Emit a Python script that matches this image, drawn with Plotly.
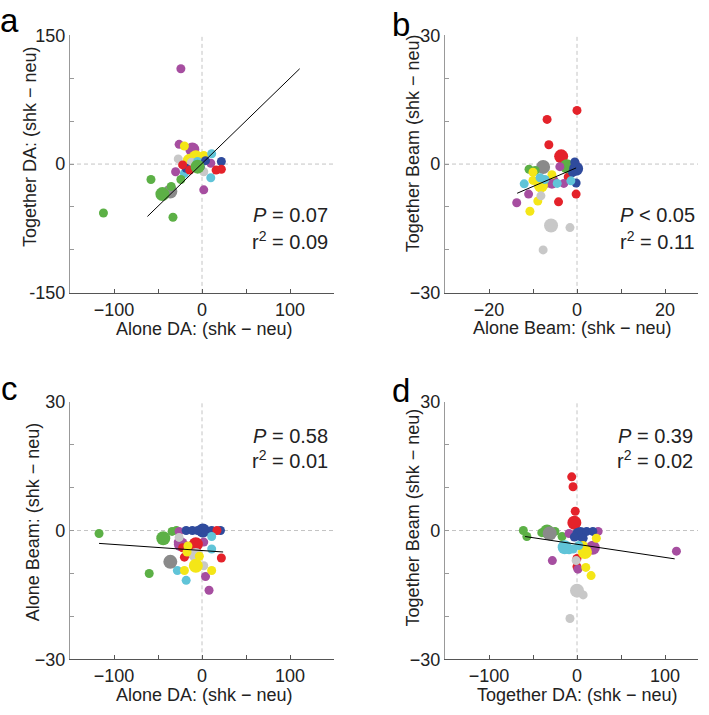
import plotly.graph_objects as go

# ---------------- data ----------------
# group codes: G green, P purple, Y yellow, L light gray, D dark gray, R red, B blue, C cyan
# big: 1 = large marker, 0 = small marker
a_x = [-24, -26, -11, -30, 10, 2, -20, -7, -14, 2, -3, -27, -7, 2, -12, -36, 11, 10, -20, -5, 22, 4, -2, -18, 22, 16, -22, -14, -24, -35, -45, -58, -33, -112, -5]
a_y = [111, 23, 17, -9, 1, -30, 21, 8, 4, 10, -4, 6, -1, -9, 2, -32, 12, -16, -11, 3, 3, 4, -3, -5, -6, -7, -1, -7, -18, -26, -35, -18, -62, -57, -3]
a_grp = ["P", "P", "P", "P", "P", "P", "Y", "Y", "Y", "Y", "Y", "L", "L", "L", "L", "D", "C", "C", "C", "C", "B", "B", "B", "B", "R", "R", "R", "R", "G", "G", "G", "G", "G", "G", "G"]
a_big = [0, 0, 1, 0, 0, 0, 0, 1, 1, 0, 0, 0, 1, 0, 0, 1, 0, 0, 0, 0, 0, 0, 0, 0, 0, 0, 0, 0, 0, 0, 1, 0, 0, 0, 1]

b_x = [0, -6.8, -6.4, -3.6, -0.2, -4.2, -2, -7.7, -10.9, -2.3, -9.5, -1, -3.9, -0.4, -5.7, -3, -11, -13.7, -7, -0.2, -0.2, -1, -0.5, -10, -10, -5.7, -8.2, -8.9, -10.7, -8.4, -7.3, -12, -4.5, -1.4, -8.2, -5.9, -1.6, -7.7]
b_y = [12.5, 10.4, 4.5, 1.8, -7, -8.8, -3, -0.7, -1.2, -0.5, -1.5, -0.3, -0.6, 0.2, -4.1, -4.5, -7, -9, -4.5, -1.1, -4.4, -2, 0.5, -1.9, -3.8, -2.5, -5, -8.6, -11, -3.2, -3.6, -4.6, -4.5, -3.9, -7.4, -14.3, -14.8, -20]
b_grp = ["R", "R", "R", "R", "R", "R", "R", "D", "G", "G", "G", "G", "P", "P", "P", "P", "P", "P", "P", "B", "B", "B", "B", "Y", "Y", "Y", "Y", "Y", "Y", "C", "C", "C", "C", "C", "L", "L", "L", "L"]
b_big = [0, 0, 0, 1, 0, 0, 0, 1, 0, 1, 0, 0, 0, 0, 1, 0, 0, 0, 0, 1, 0, 0, 0, 0, 0, 0, 1, 0, 0, 0, 0, 0, 0, 0, 0, 1, 0, 0]

c_x = [-117, -34, -44, -60, -29, -26, -27, -24, 2, -11, 4, 8, -18, -11, 1, 11, 21, -5, 17, -7, -22, -20, 22, 11, 11, -28, -18, -26, -7, 2, -36, -16, -17, -7, -20, 11, -3]
c_y = [-0.7, -0.2, -1.8, -10, 0, -0.2, -2.7, -3.2, -2.7, -5.5, -10.7, -13.9, 0, 0, 0, 0, 0, 0, 0, -3.2, -4, -6.2, -6.4, -1.4, -4.3, -9.3, -11.6, -1.6, -5.7, -8.2, -7.3, -3.6, -5, -8.2, -9.3, -9.3, -6]
c_grp = ["G", "G", "G", "G", "G", "P", "P", "P", "P", "P", "P", "P", "B", "B", "B", "B", "B", "B", "R", "R", "R", "R", "R", "C", "C", "C", "C", "L", "L", "L", "D", "Y", "Y", "Y", "Y", "Y", "Y"]
c_big = [0, 0, 1, 0, 0, 0, 0, 1, 0, 0, 0, 0, 0, 0, 1, 0, 0, 0, 0, 1, 0, 0, 0, 0, 0, 0, 0, 0, 1, 0, 1, 0, 0, 1, 0, 0, 0]

d_x = [-6, -4.5, -2, -3, 0, 0, -61, -57, -34, -25, -17, -40, -31, -9, 24, 18, 113, -28, 1, 0, 4, 11, 18, 7, -3, 22, 7, 9, 10, 16, -14, -4.5, -9, 2, -1, 0, 7, -8]
d_y = [12.5, 10.2, 4.5, 1.8, -6.5, -8.4, 0, -1.4, -0.2, -0.2, -1.4, -0.5, -0.7, -0.7, -0.2, -4, -4.8, -7, -9, -0.5, -0.8, -0.2, -0.2, -1.8, -1.5, -1.8, -3.5, -5, -8.6, -10.5, -3.9, -4.3, -4.5, -3.5, -7, -14, -15, -20.5]
d_grp = ["R", "R", "R", "R", "R", "R", "G", "G", "G", "G", "G", "G", "D", "P", "P", "P", "P", "P", "P", "B", "B", "B", "B", "B", "B", "Y", "Y", "Y", "Y", "Y", "C", "C", "C", "C", "L", "L", "L", "L"]
d_big = [0, 0, 0, 1, 0, 0, 0, 0, 1, 0, 0, 0, 1, 0, 0, 1, 0, 0, 0, 0, 1, 0, 0, 0, 0, 0, 0, 1, 0, 0, 1, 0, 0, 0, 0, 1, 0, 0]

# regression line end points
a_fit_x = [-62, 111]
a_fit_y = [-61, 111]
b_fit_x = [-13.6, -0.2]
b_fit_y = [-6.8, -0.9]
c_fit_x = [-117, 24]
c_fit_y = [-3.0, -5.0]
d_fit_x = [-59, 111]
d_fit_y = [-1.4, -6.6]

# statistics text
stats_p = ["<i>P</i> = 0.07", "<i>P</i> < 0.05", "<i>P</i> = 0.58", "<i>P</i> = 0.39"]
stats_r2 = ["r<sup>2</sup> = 0.09", "r<sup>2</sup> = 0.11", "r<sup>2</sup> = 0.01", "r<sup>2</sup> = 0.02"]

# axis titles
x_titles = ["Alone DA: (shk − neu)", "Alone Beam: (shk − neu)", "Alone DA: (shk − neu)", "Together DA: (shk − neu)"]
y_titles = ["Together DA: (shk − neu)", "Together Beam (shk − neu)", "Alone Beam: (shk − neu)", "Together Beam (shk − neu)"]
panel_letters = ["a", "b", "c", "d"]

# ticks (labelled ticks; unlabelled minor ticks every step)
da_x_tickvals = [-100, 0, 100]
da_x_ticktext = ["−100", "0", "100"]
da_y_tickvals = [-150, 0, 150]
da_y_ticktext = ["-150", "0", "150"]
da_step = 50
beam_x_tickvals = [-20, 0, 20]
beam_x_ticktext = ["−20", "0", "20"]
beam_y_tickvals = [-30, 0, 30]
beam_y_ticktext = ["−30", "0", "30"]
beam_step = 10

# ---------------- styling ----------------
COLORS = {"G": "#5cb046", "P": "#a64ea0", "Y": "#f4e617", "L": "#c8c8c8",
          "D": "#8a8a8a", "R": "#e4222a", "B": "#2f4b9d", "C": "#60c4d8"}
SIZES = {0: 9, 1: 14}
FONT = "Liberation Sans, Arial, sans-serif"

W, H = 709, 715
def fx(px):
    return px / W
def fy(py):
    return 1 - py / H

left_dom = [fx(70), fx(334)]
right_dom = [fx(445), fx(698)]
top_dom = [fy(291), fy(26)]
bot_dom = [fy(668), fy(403)]

panels = [
    dict(x=a_x, y=a_y, g=a_grp, b=a_big, fx=a_fit_x, fy=a_fit_y, xd=left_dom, yd=top_dom,
         xr=[-150, 150], yr=[-150, 150], xv=da_x_tickvals, xt=da_x_ticktext, yv=da_y_tickvals,
         yt=da_y_ticktext, xs=da_step, ys=da_step),
    dict(x=b_x, y=b_y, g=b_grp, b=b_big, fx=b_fit_x, fy=b_fit_y, xd=right_dom, yd=top_dom,
         xr=[-30, 27.5], yr=[-30, 30], xv=beam_x_tickvals, xt=beam_x_ticktext, yv=beam_y_tickvals,
         yt=beam_y_ticktext, xs=beam_step, ys=beam_step),
    dict(x=c_x, y=c_y, g=c_grp, b=c_big, fx=c_fit_x, fy=c_fit_y, xd=left_dom, yd=bot_dom,
         xr=[-150, 150], yr=[-30, 30], xv=da_x_tickvals, xt=da_x_ticktext, yv=beam_y_tickvals,
         yt=beam_y_ticktext, xs=da_step, ys=beam_step),
    dict(x=d_x, y=d_y, g=d_grp, b=d_big, fx=d_fit_x, fy=d_fit_y, xd=right_dom, yd=bot_dom,
         xr=[-150, 137.5], yr=[-30, 30], xv=da_x_tickvals, xt=da_x_ticktext, yv=beam_y_tickvals,
         yt=beam_y_ticktext, xs=da_step, ys=beam_step),
]

fig = go.Figure()
layout = dict(width=W, height=H, margin=dict(l=0, r=0, t=0, b=0),
              paper_bgcolor="white", plot_bgcolor="rgba(0,0,0,0)",
              showlegend=False, font=dict(family=FONT, size=18, color="#222"))
shapes = []
annotations = []

# pixel positions of texts
xtitle_pos = [(204, 328), (572, 327), (204, 705), (577, 705)]
ytitle_pos = [(30, 141), (413, 137), (33, 527), (413, 522)]
letter_pos = [(9, 11), (401, 15), (9, 389), (401, 391)]
stats_pos = [(330, 211, 237), (697, 211, 237), (330, 438, 462), (695, 438, 462)]

for i, p in enumerate(panels):
    n = "" if i == 0 else str(i + 1)
    xa, ya = "x" + n, "y" + n
    shapes.append(dict(type="line", xref=xa, yref=ya + " domain", x0=0, x1=0, y0=0, y1=1,
                       line=dict(color="#c4c4c4", width=1, dash="4px,3px"), layer="below"))
    shapes.append(dict(type="line", xref=xa + " domain", yref=ya, x0=0, x1=1, y0=0, y1=0,
                       line=dict(color="#c4c4c4", width=1, dash="4px,3px"), layer="below"))
    fig.add_trace(go.Scatter(
        x=p["x"], y=p["y"], mode="markers", xaxis=xa, yaxis=ya,
        marker=dict(color=[COLORS[g] for g in p["g"]], size=[SIZES[b] for b in p["b"]],
                    line=dict(width=0), opacity=1),
        hoverinfo="skip"))
    fig.add_trace(go.Scatter(x=p["fx"], y=p["fy"], mode="lines", xaxis=xa, yaxis=ya,
                             line=dict(color="black", width=1), hoverinfo="skip"))
    xkey = "xaxis" + n
    ykey = "yaxis" + n
    layout[xkey] = dict(domain=p["xd"], range=p["xr"], anchor=ya, showgrid=False, zeroline=False,
                        showline=True, linecolor="#555", linewidth=1.2,
                        ticks="inside", ticklen=4, tickcolor="#555", tickwidth=1,
                        tickmode="array", tickvals=p["xv"], ticktext=p["xt"],
                        minor=dict(tick0=0, dtick=p["xs"], ticks="inside", ticklen=4,
                                   tickcolor="#555", showgrid=False),
                        tickfont=dict(size=18, color="#222"), fixedrange=True)
    layout[ykey] = dict(domain=p["yd"], range=p["yr"], anchor=xa, showgrid=False, zeroline=False,
                        showline=True, linecolor="#999", linewidth=1.2,
                        ticks="inside", ticklen=4, tickcolor="#999", tickwidth=1,
                        tickmode="array", tickvals=p["yv"], ticktext=p["yt"],
                        minor=dict(tick0=0, dtick=p["ys"], ticks="inside", ticklen=4,
                                   tickcolor="#999", showgrid=False),
                        tickfont=dict(size=18, color="#222"), fixedrange=True)
    tx, ty = xtitle_pos[i]
    annotations.append(dict(text=x_titles[i], x=fx(tx), y=fy(ty), xref="paper", yref="paper",
                            showarrow=False, xanchor="center", yanchor="middle",
                            font=dict(size=18, color="#222")))
    tx, ty = ytitle_pos[i]
    annotations.append(dict(text=y_titles[i], x=fx(tx), y=fy(ty), xref="paper", yref="paper",
                            showarrow=False, xanchor="center", yanchor="middle", textangle=-90,
                            font=dict(size=18, color="#222")))
    tx, ty = letter_pos[i]
    annotations.append(dict(text=panel_letters[i], x=fx(tx), y=fy(ty), xref="paper", yref="paper",
                            showarrow=False, xanchor="center", yanchor="middle",
                            font=dict(size=33, color="black")))
    sx, sy1, sy2 = stats_pos[i]
    annotations.append(dict(text=stats_p[i], x=fx(sx), y=fy(sy1), xref="paper", yref="paper",
                            showarrow=False, xanchor="right", yanchor="middle",
                            font=dict(size=20, color="#222")))
    annotations.append(dict(text=stats_r2[i], x=fx(sx), y=fy(sy2), xref="paper", yref="paper",
                            showarrow=False, xanchor="right", yanchor="middle",
                            font=dict(size=20, color="#222")))

layout["shapes"] = shapes
layout["annotations"] = annotations
fig.update_layout(**layout)
fig.write_html("out.html", config={"displayModeBar": False},
               post_script="document.body.style.margin='0';document.body.style.overflow='hidden';")
